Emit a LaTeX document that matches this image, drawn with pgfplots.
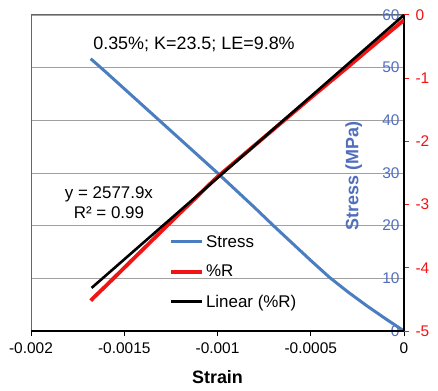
\documentclass[border=0pt]{standalone}
\usepackage{fontspec}
\setmainfont{Liberation Sans}
\usepackage{pgfplots}
\pgfplotsset{compat=1.18}
\definecolor{stressblue}{RGB}{74,126,193}
\definecolor{lblblue}{RGB}{80,110,190}
\definecolor{rred}{RGB}{240,20,20}
\definecolor{gridgray}{RGB}{160,160,160}
\begin{document}
\begin{tikzpicture}
% Axis A: stress
\begin{axis}[
  scale only axis, width=373bp, height=316bp,
  xmin=-0.002, xmax=0, ymin=0, ymax=60,
  xtick=\empty,
  ytick={0,10,20,30,40,50,60},
  yticklabels={0,10,20,30,40,50,60},
  yticklabel pos=right,
  major tick length=0pt,
  y tick label style={anchor=east, xshift=-1bp, text=lblblue, font=\fontsize{15.5}{18}\selectfont},
  ymajorgrids, grid style={gridgray, line width=0.8bp},
  axis line style={draw=black!60, line width=1bp},
  clip=false,
]
\addplot[color=stressblue, line width=3bp, line join=round] coordinates {
(-0.00168,51.7) (-0.0016,49.2) (-0.0015,46.0) (-0.0014,42.8) (-0.0013,39.6)
(-0.0012,36.4) (-0.0011,33.2) (-0.001,30.0) (-0.0009,26.7) (-0.0008,23.4)
(-0.0007,20.0) (-0.0006,16.7) (-0.0005,13.4) (-0.0004,10.2) (-0.0003,7.4)
(-0.0002,4.8) (-0.0001,2.35) (0,0)
};
\node[rotate=90, text=lblblue, font=\fontsize{18}{21}\selectfont\bfseries] at (rel axis cs:0.865,0.49) {Stress (MPa)};
\node[font=\fontsize{18}{21}\selectfont] at (rel axis cs:0.437,0.908) {0.35\%; K=23.5; LE=9.8\%};
\node[font=\fontsize{17}{20}\selectfont, align=center] at (rel axis cs:0.209,0.405) {y = 2577.9x\\R² = 0.99};
\end{axis}
% Axis B: %R
\begin{axis}[
  scale only axis, width=373bp, height=316bp,
  xmin=-0.002, xmax=0, ymin=-5, ymax=0,
  scaled x ticks=false,
  axis x line*=bottom, axis y line*=right,
  axis line style={draw=black, line width=1.2bp},
  xtick={-0.002,-0.0015,-0.001,-0.0005,0},
  xticklabels={-0.002,-0.0015,-0.001,-0.0005,0},
  ytick={-5,-4,-3,-2,-1,0},
  yticklabels={-5,-4,-3,-2,-1,0},
  tick align=outside, major tick length=5bp,
  x tick style={black, line width=1bp},
  y tick style={rred, line width=1bp},
  x tick label style={font=\fontsize{15.5}{18}\selectfont, yshift=-3bp},
  y tick label style={text=rred, font=\fontsize{15.5}{18}\selectfont, xshift=3bp},
  xlabel={\bfseries Strain},
  x label style={font=\fontsize{18}{21}\selectfont, at={(axis description cs:0.5,-0.146)}, anchor=center},
  legend style={at={(rel axis cs:0.37,0.31)}, anchor=north west, draw=none, fill=none,
    font=\fontsize{17}{20}\selectfont, row sep=12.5bp, inner sep=0pt},
  legend cell align=left,
  legend image code/.code={\draw[#1] (0bp,0bp) -- (31bp,0bp);},
]
\addlegendimage{color=stressblue, line width=3bp}
\addlegendentry{Stress}
\addplot[color=rred, line width=3.8bp, line join=round] coordinates {
(-0.00168,-4.52) (-0.00166,-4.46) (-0.0016,-4.29) (-0.00155,-4.145) (-0.0015,-4.0)
(-0.00145,-3.855) (-0.0014,-3.71) (-0.00135,-3.565) (-0.0013,-3.42) (-0.00125,-3.275)
(-0.0012,-3.13) (-0.00115,-2.99) (-0.0011,-2.845) (-0.00105,-2.70) (-0.001,-2.56)
(-0.0009,-2.31) (-0.0008,-2.06) (-0.0007,-1.81) (-0.0006,-1.56) (-0.0005,-1.31)
(-0.0004,-1.065) (-0.0003,-0.82) (-0.0002,-0.57) (-0.0001,-0.325) (0,-0.08)
};
\addlegendentry{\%R}
\addplot[color=black, line width=2.6bp] coordinates {
(-0.001675,-4.318) (0,0)
};
\addlegendentry{Linear (\%R)}
\end{axis}
\pgfresetboundingbox
\path (-31bp,-60bp) rectangle (407bp,331bp);
\end{tikzpicture}
\end{document}
